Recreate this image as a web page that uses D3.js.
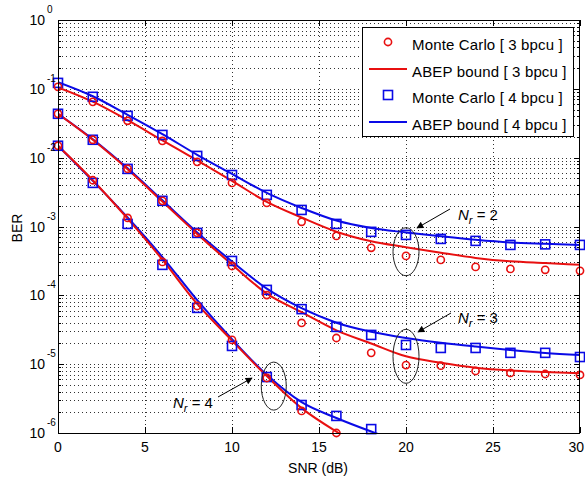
<!DOCTYPE html>
<html><head><meta charset="utf-8">
<script src="https://cdn.jsdelivr.net/npm/d3@7"></script>
<style>
body{margin:0;background:#fff;}
svg{display:block;font-family:"Liberation Sans",Arial,sans-serif;}
</style></head>
<body><svg id="c" width="585" height="481"></svg>
<script>
const snr = [0,2,4,6,8,10,12,14,16,18,20,22,24,26,28,30];
// Monte Carlo, 3 bpcu
const mc3_nr2 = [0.107,0.0647,0.0343,0.0175,0.0087,0.0043,0.0022,0.00117,0.00073,0.00049,0.000374,0.000327,0.000259,0.000242,0.000235,0.000227];
const mc3_nr3 = [0.0434,0.0182,0.0069,0.00236,0.000807,0.000267,0.000101,3.97e-5,2.4e-5,1.46e-5,9.7e-6,9.5e-6,7.96e-6,7.45e-6,7.2e-6,6.97e-6];
const mc3_nr4 = [0.0149,0.0047,0.00133,0.000306,7.0e-5,2.25e-5,6.3e-6,2.09e-6,1.0e-6,null,null,null,null,null,null,null];
// Monte Carlo, 4 bpcu
const mc4_nr2 = [0.122,0.0766,0.0405,0.0214,0.0106,0.0056,0.00288,0.00174,0.00109,0.000836,0.000755,0.00066,0.000618,0.00054,0.00055,0.00054];
const mc4_nr3 = [0.0434,0.0182,0.00687,0.00236,0.000807,0.000316,0.00012,6.3e-5,3.48e-5,2.66e-5,1.9e-5,1.72e-5,1.72e-5,1.46e-5,1.46e-5,1.27e-5];
const mc4_nr4 = [0.0149,0.0043,0.00109,0.000277,6.57e-5,1.84e-5,6.5e-6,2.55e-6,1.77e-6,1.14e-6,null,null,null,null,null,null];
// ABEP bound, 3 bpcu
const ab3_nr2 = [0.105,0.065,0.035,0.0178,0.0091,0.0046,0.00228,0.00135,0.00084,0.00061,0.0005,0.000415,0.00035,0.000312,0.000294,0.000277];
const ab3_nr3 = [0.0434,0.0182,0.0068,0.0023,0.00078,0.00028,0.000106,5.7e-5,3.1e-5,2.0e-5,1.3e-5,1.05e-5,8.9e-6,8.1e-6,7.7e-6,7.4e-6];
const ab3_nr4 = [0.0149,0.0047,0.0013,0.00033,7.5e-5,2.2e-5,6.7e-6,2.3e-6,1.05e-6,0.55e-6,null,null,null,null,null,null];
// ABEP bound, 4 bpcu
const ab4_nr2 = [0.125,0.078,0.042,0.022,0.011,0.0058,0.00308,0.00186,0.00122,0.00095,0.00082,0.00072,0.00064,0.000585,0.00056,0.00054];
const ab4_nr3 = [0.0434,0.0185,0.0070,0.0024,0.00082,0.00031,0.000125,6.5e-5,4.0e-5,2.95e-5,2.4e-5,2.05e-5,1.8e-5,1.6e-5,1.45e-5,1.36e-5];
const ab4_nr4 = [0.0149,0.0046,0.00135,0.00036,8.5e-5,2.3e-5,7.0e-6,2.8e-6,1.65e-6,1.05e-6,0.7e-6,null,null,null,null,null];

const xTicks = [0,5,10,15,20,25,30];
const yExps = [0,-1,-2,-3,-4,-5,-6];
const legendLabels = ["Monte Carlo [ 3 bpcu ]","ABEP bound [ 3 bpcu ]","Monte Carlo [ 4 bpcu ]","ABEP bound [ 4 bpcu ]"];
const nrLabels = ["2","3","4"];

const RED = "#e81010", BLUE = "#0a0ae6";
const L = 58, R = 580, T = 20, B = 433;
const svg = d3.select("#c");
const x = d3.scaleLinear().domain([0,30]).range([L,R]);
const y = d3.scaleLog().domain([1e-6,1]).range([B,T]);

// grid
const g = svg.append("g");
const minorVals = [];
for (let e=-6;e<0;e++) for (let m=1;m<=9;m++) minorVals.push(m*Math.pow(10,e));
minorVals.push(1);
g.selectAll(".hg").data(minorVals.filter(v=>v>1e-6 && v<1)).enter().append("line")
 .attr("x1",L).attr("x2",R).attr("y1",d=>Math.round(y(d))+0.5).attr("y2",d=>Math.round(y(d))+0.5)
 .attr("stroke","#000").attr("stroke-width",1).attr("stroke-dasharray","1,3").attr("opacity",0.8);
g.selectAll(".vg").data(xTicks.filter(t=>t>0&&t<30)).enter().append("line")
 .attr("y1",T).attr("y2",B).attr("x1",d=>Math.round(x(d))+0.5).attr("x2",d=>Math.round(x(d))+0.5)
 .attr("stroke","#000").attr("stroke-width",1).attr("stroke-dasharray","1,3").attr("opacity",0.8);

// ticks (inside, all four sides)
const tk = svg.append("g").attr("stroke","#000").attr("stroke-width",1);
xTicks.forEach(t=>{
  const xx = Math.round(x(t))+0.5;
  tk.append("line").attr("x1",xx).attr("x2",xx).attr("y1",B).attr("y2",B-6);
  tk.append("line").attr("x1",xx).attr("x2",xx).attr("y1",T).attr("y2",T+6);
});
minorVals.forEach(v=>{
  if (v<1e-6||v>1) return;
  const yy = Math.round(y(v))+0.5;
  const major = Math.abs(Math.log10(v)-Math.round(Math.log10(v)))<1e-9;
  const len = major?6:3;
  tk.append("line").attr("x1",L).attr("x2",L+len).attr("y1",yy).attr("y2",yy);
  tk.append("line").attr("x1",R).attr("x2",R-len).attr("y1",yy).attr("y2",yy);
});

// clip
svg.append("clipPath").attr("id","clip").append("rect").attr("x",L).attr("y",T).attr("width",R-L).attr("height",B-T);

const line = d3.line().defined(d=>d[1]!=null).x(d=>x(d[0])).y(d=>y(d[1])).curve(d3.curveMonotoneX);
const lg = svg.append("g").attr("clip-path","url(#clip)");
function drawLine(vals,color){
  lg.append("path").datum(snr.map((s,i)=>[s,vals[i]])).attr("d",line)
    .attr("fill","none").attr("stroke",color).attr("stroke-width",2);
}
[ab4_nr2,ab4_nr3,ab4_nr4].forEach(v=>drawLine(v,BLUE));
[ab3_nr2,ab3_nr3,ab3_nr4].forEach(v=>drawLine(v,RED));

const mg = svg.append("g");
function drawCircles(vals){
  mg.selectAll(null).data(snr.map((s,i)=>[s,vals[i]]).filter(d=>d[1]!=null)).enter().append("circle")
    .attr("cx",d=>x(d[0])).attr("cy",d=>y(d[1])).attr("r",3.6)
    .attr("fill","none").attr("stroke",RED).attr("stroke-width",1.6);
}
function drawSquares(vals){
  mg.selectAll(null).data(snr.map((s,i)=>[s,vals[i]]).filter(d=>d[1]!=null)).enter().append("rect")
    .attr("x",d=>x(d[0])-4.5).attr("y",d=>y(d[1])-4.5).attr("width",9).attr("height",9)
    .attr("fill","none").attr("stroke",BLUE).attr("stroke-width",1.6);
}
[mc4_nr2,mc4_nr3,mc4_nr4].forEach(drawSquares);
[mc3_nr2,mc3_nr3,mc3_nr4].forEach(drawCircles);

// frame
svg.append("rect").attr("x",L+0.5).attr("y",T+0.5).attr("width",R-L-1).attr("height",B-T)
  .attr("fill","none").attr("stroke","#000").attr("stroke-width",1);

// tick labels
const tl = svg.append("g").attr("font-size",14).attr("fill","#000");
xTicks.forEach(t=>{
  const last = t===30;
  tl.append("text").attr("x",last?584:x(t)).attr("y",452)
    .attr("text-anchor",last?"end":"middle").text(t);
});
yExps.forEach(e=>{
  const yy = y(Math.pow(10,e));
  tl.append("text").attr("x",45).attr("y",yy+5).attr("text-anchor","end").text("10");
  tl.append("text").attr("x",47).attr("y",yy-7).attr("font-size",10).text(e===0?"0":"-"+(-e));
});
svg.append("text").attr("x",318).attr("y",473).attr("text-anchor","middle").attr("font-size",14).text("SNR (dB)");
svg.append("text").attr("transform","translate(22,228) rotate(-90)").attr("text-anchor","middle").attr("font-size",14).text("BER");

// annotations
const defs = svg.append("defs");
defs.append("marker").attr("id","ah").attr("viewBox","0 0 10 10").attr("refX",9).attr("refY",5)
 .attr("markerWidth",9).attr("markerHeight",7).attr("orient","auto").attr("markerUnits","userSpaceOnUse")
 .append("path").attr("d","M0,0 L10,5 L0,10 z").attr("fill","#000");
const ann = [
  {sx:20, vy:4.3e-4, rx:13, ry:24, ax1:450, ay1:209, ax2:417, ay2:228, tx:458, ty:220, lab:nrLabels[0]},
  {sx:20, vy:1.3e-5, rx:13, ry:27, ax1:451, ay1:313, ax2:418, ay2:332, tx:458, ty:323, lab:nrLabels[1]},
  {sx:12.4, vy:4.8e-6, rx:12.5, ry:24, ax1:218, ay1:397, ax2:252, ay2:378, tx:173, ty:408, lab:nrLabels[2]}
];
const ag = svg.append("g");
ann.forEach(a=>{
  ag.append("ellipse").attr("cx",x(a.sx)).attr("cy",y(a.vy)).attr("rx",a.rx).attr("ry",a.ry)
    .attr("fill","none").attr("stroke","#222").attr("stroke-width",1);
  ag.append("line").attr("x1",a.ax1).attr("y1",a.ay1).attr("x2",a.ax2).attr("y2",a.ay2)
    .attr("stroke","#000").attr("stroke-width",1).attr("marker-end","url(#ah)");
  const t = ag.append("text").attr("x",a.tx).attr("y",a.ty).attr("font-size",15);
  t.append("tspan").attr("font-style","italic").text("N");
  t.append("tspan").attr("font-style","italic").attr("font-size",11).attr("dy",4).text("r");
  t.append("tspan").attr("dy",-4).text(" = "+a.lab);
});

// legend
const lx = 362, ly = 27, lw = 211, lh = 109;
const leg = svg.append("g");
leg.append("rect").attr("x",lx+0.5).attr("y",ly+0.5).attr("width",lw).attr("height",lh)
  .attr("fill","#fff").attr("stroke","#000").attr("stroke-width",1);
const rowsY = [45,72,98,125];
legendLabels.forEach((lab,i)=>{
  const yy = rowsY[i];
  const col = i<2?RED:BLUE;
  if (i===0) leg.append("circle").attr("cx",388).attr("cy",yy-3).attr("r",3.6).attr("fill","none").attr("stroke",col).attr("stroke-width",1.6);
  if (i===2) leg.append("rect").attr("x",388-4.5).attr("y",yy-3-4.5).attr("width",9).attr("height",9).attr("fill","none").attr("stroke",col).attr("stroke-width",1.6);
  if (i===1||i===3) leg.append("line").attr("x1",369).attr("x2",407).attr("y1",yy-3).attr("y2",yy-3).attr("stroke",col).attr("stroke-width",2);
  leg.append("text").attr("x",412).attr("y",yy+5).attr("font-size",15).attr("letter-spacing",0.15).text(lab);
});
</script></body></html>
